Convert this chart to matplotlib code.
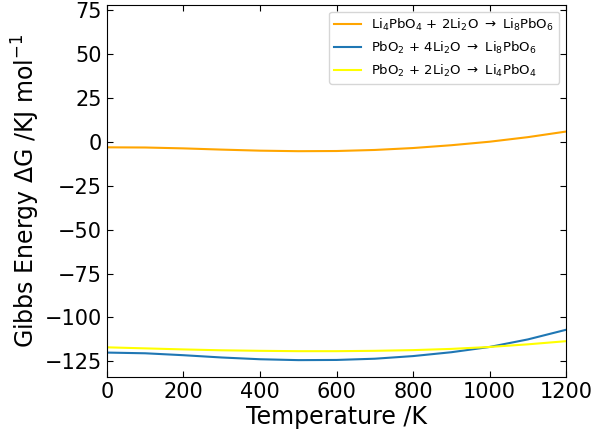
import numpy as np
import matplotlib.pyplot as plt

# temperatures (K) and Gibbs energies (kJ/mol)
temp = [0, 100, 200, 300, 400, 500, 600, 700, 800, 900, 1000, 1100, 1200]
dg_li4_to_li8 = [-3.0, -3.1, -3.6, -4.3, -4.9, -5.2, -5.1, -4.5, -3.4, -1.8, 0.2, 2.8, 6.0]
dg_pbo2_to_li8 = [-120.0, -120.4, -121.5, -122.8, -123.8, -124.3, -124.2, -123.5,
                  -122.0, -119.8, -116.8, -112.5, -107.0]
dg_pbo2_to_li4 = [-117.0, -117.6, -118.2, -118.7, -119.0, -119.2, -119.2, -119.0,
                  -118.6, -117.9, -116.8, -115.3, -113.5]

labels = [r'Li$_4$PbO$_4$ + 2Li$_2$O $\rightarrow$ Li$_8$PbO$_6$',
          r'PbO$_2$ + 4Li$_2$O $\rightarrow$ Li$_8$PbO$_6$',
          r'PbO$_2$ + 2Li$_2$O $\rightarrow$ Li$_4$PbO$_4$']

fig = plt.figure(figsize=(5.94, 4.36), dpi=100)
ax = fig.add_axes([0.18, 0.135, 0.773, 0.853])

ax.plot(temp, dg_li4_to_li8, color='orange', lw=1.5, label=labels[0])
ax.plot(temp, dg_pbo2_to_li8, color='tab:blue', lw=1.5, label=labels[1])
ax.plot(temp, dg_pbo2_to_li4, color='yellow', lw=1.5, label=labels[2])

ax.set_xlim(0, 1200)
ax.set_ylim(-134, 78)
ax.set_yticks(np.arange(-125, 76, 25))
ax.tick_params(direction='in', top=True, right=True, labelsize=15, length=4)
ax.set_xlabel('Temperature /K', fontsize=17, labelpad=2)
ax.set_ylabel(r'Gibbs Energy $\Delta$G /KJ mol$^{-1}$', fontsize=17, labelpad=2)
ax.legend(loc='upper right', fontsize=9.5)

fig.savefig('out.png', dpi=100)
